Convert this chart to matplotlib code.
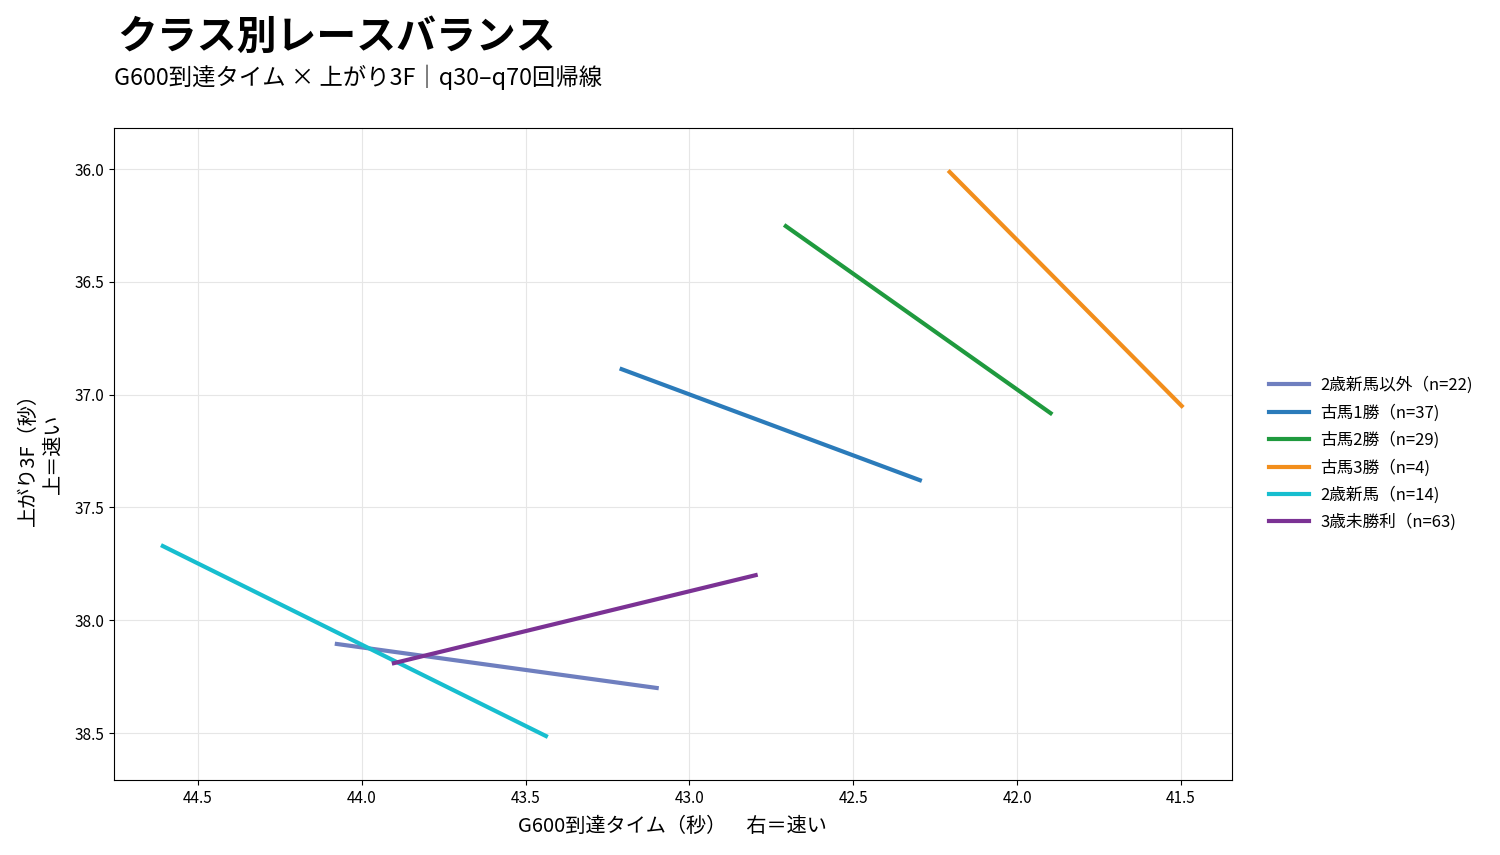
import matplotlib
matplotlib.use("Agg")
import matplotlib.pyplot as plt

plt.rcParams['font.family'] = ['Noto Sans CJK JP', 'DejaVu Sans']

# クラスごとの回帰線 (q30-q70) の両端
classes = ["2歳新馬以外", "古馬1勝", "古馬2勝", "古馬3勝", "2歳新馬", "3歳未勝利"]
counts = [22, 37, 29, 4, 14, 63]
g600_start = [44.076, 43.207, 42.706, 42.206, 44.607, 43.902]
g600_end = [43.100, 42.297, 41.898, 41.498, 43.438, 42.798]
agari_start = [38.105, 36.887, 36.253, 36.013, 37.671, 38.190]
agari_end = [38.300, 37.379, 37.082, 37.050, 38.513, 37.800]
colors = ["#6f7fbf", "#2b7bba", "#1f9a3e", "#f28e1c", "#17becf", "#7b3294"]

fig = plt.figure(figsize=(15, 8.55), dpi=100)
ax = fig.add_axes([0.076, 0.0877, 0.745, 0.7626])

for i in range(len(classes)):
    ax.plot([g600_start[i], g600_end[i]], [agari_start[i], agari_end[i]],
            color=colors[i], lw=3, label=f"{classes[i]}（n={counts[i]})")

ax.set_xlim(44.756, 41.346)
ax.set_ylim(38.708, 35.818)
ax.set_xticks([44.5, 44.0, 43.5, 43.0, 42.5, 42.0, 41.5])
ax.set_yticks([36.0, 36.5, 37.0, 37.5, 38.0, 38.5])
ax.tick_params(labelsize=11)
ax.grid(True, color="#e6e6e6", lw=0.8)
ax.set_axisbelow(True)

ax.set_xlabel("G600到達タイム（秒）　右＝速い", fontsize=14.5, labelpad=7)
ax.set_ylabel("上がり3F（秒）\n上＝速い", fontsize=14.5, labelpad=8)

ax.legend(loc="center left", bbox_to_anchor=(1.02, 0.5), frameon=False,
          fontsize=12, handlelength=2.4, handletextpad=0.7, labelspacing=0.6)

fig.text(0.078, 0.956, "クラス別レースバランス", fontsize=28.7, fontweight="bold",
         va="center", ha="left")
fig.text(0.076, 0.909, "G600到達タイム × 上がり3F｜q30–q70回帰線", fontsize=16.8,
         va="center", ha="left")

fig.savefig("out.png", dpi=100)
